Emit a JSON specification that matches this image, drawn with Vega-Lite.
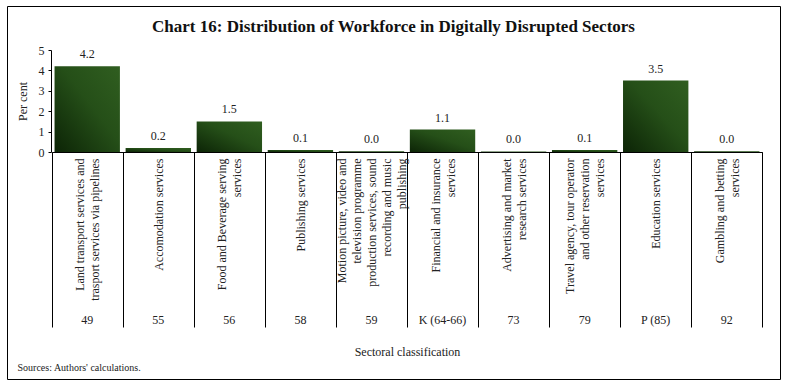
{
  "$schema": "https://vega.github.io/schema/vega-lite/v6.json",
  "width": 773,
  "height": 373,
  "autosize": {"type": "none"},
  "padding": {"left": 7, "top": 6, "right": 7, "bottom": 8},
  "background": "white",
  "title": {
    "text": "Chart 16: Distribution of Workforce in Digitally Disrupted Sectors",
    "font": "Liberation Serif",
    "fontSize": 17,
    "fontWeight": "bold",
    "color": "#111",
    "anchor": "middle",
    "frame": "group",
    "baseline": "alphabetic",
    "offset": -43
  },
  "config": {
    "view": {"stroke": "#000", "strokeWidth": 1},
    "font": "Liberation Serif",
    "text": {"font": "Liberation Serif"}
  },
  "data": {
    "values": [
      {"cat": "Land transport services and|trasport services via pipelines", "value": 4.2, "code": "49"},
      {"cat": "Accomodation services", "value": 0.2, "code": "55"},
      {"cat": "Food and Beverage serving|services", "value": 1.5, "code": "56"},
      {"cat": "Publishing services", "value": 0.1, "code": "58"},
      {"cat": "Motion picture, video and|television programme|production services, sound|recording and music|publishing", "value": 0.04, "code": "59"},
      {"cat": "Financial and insurance|services", "value": 1.1, "code": "K (64-66)"},
      {"cat": "Advertising and market|research services", "value": 0.03, "code": "73"},
      {"cat": "Travel agency, tour operator|and other reservation|services", "value": 0.1, "code": "79"},
      {"cat": "Education services", "value": 3.5, "code": "P (85)"},
      {"cat": "Gambling and betting|services", "value": 0.04, "code": "92"}
    ]
  },
  "resolve": {"axis": {"x": "independent"}},
  "layer": [
    {
      "mark": {
        "type": "bar",
        "width": {"band": 0.92},
        "color": {
          "gradient": "linear",
          "x1": 0, "y1": 1, "x2": 1, "y2": 0,
          "stops": [
            {"offset": 0, "color": "#0c2406"},
            {"offset": 0.55, "color": "#254f18"},
            {"offset": 1, "color": "#305e20"}
          ]
        }
      },
      "encoding": {
        "x": {
          "field": "cat",
          "type": "nominal",
          "sort": null,
          "scale": {"range": [44.7, 755.3], "paddingInner": 0, "paddingOuter": 0},
          "axis": {
            "orient": "bottom",
            "offset": -227,
            "tickBand": "extent",
            "tickSize": 175,
            "tickColor": "#000",
            "domainColor": "#000",
            "labelAngle": -90,
            "labelAlign": "right",
            "labelBaseline": "middle",
            "labelPadding": -169,
            "labelExpr": "split(datum.label, '|')",
            "labelOffset": {
              "condition": [
                {"test": "length(split(datum.value, '|')) == 2", "value": -7.5},
                {"test": "length(split(datum.value, '|')) == 3", "value": -15},
                {"test": "length(split(datum.value, '|')) == 5", "value": -30}
              ],
              "value": 0
            },
            "labelLineHeight": 15,
            "labelFontSize": 12,
            "labelColor": "#222",
            "labelLimit": 0,
            "labelOverlap": false,
            "labelBound": false,
            "labelFlush": false,
            "title": "Sectoral classification",
            "titleFontSize": 12,
            "titleFontWeight": "normal",
            "titleColor": "#222",
            "titlePadding": 19
          }
        },
        "y": {
          "field": "value",
          "type": "quantitative",
          "title": "Per cent",
          "scale": {"domain": [0, 5], "range": [146, 44], "nice": false, "zero": false},
          "axis": {
            "orient": "left",
            "offset": -44,
            "values": [0, 1, 2, 3, 4, 5],
            "format": "d",
            "tickSize": 3,
            "tickColor": "#000",
            "domainColor": "#000",
            "labelPadding": 4,
            "labelFontSize": 12,
            "labelColor": "#222",
            "grid": false,
            "titleFontSize": 12,
            "titleFontWeight": "normal",
            "titleColor": "#222",
            "titlePadding": 9
          }
        }
      }
    },
    {
      "mark": {"type": "text", "baseline": "alphabetic", "dy": -8, "fontSize": 12, "color": "#222"},
      "encoding": {
        "x": {"field": "cat", "type": "nominal", "sort": null, "axis": null},
        "y": {"field": "value", "type": "quantitative", "title": "Per cent"},
        "text": {"field": "value", "type": "quantitative", "format": ".1f"}
      }
    },
    {
      "mark": {"type": "text", "baseline": "middle", "fontSize": 12, "color": "#222"},
      "encoding": {
        "x": {
          "field": "cat",
          "type": "nominal",
          "sort": null,
          "axis": {
            "orient": "top",
            "labels": false,
            "ticks": false,
            "domain": false,
            "title": "Sources: Authors' calculations.",
            "titleX": 10,
            "titleY": 361,
            "titleAlign": "left",
            "titleAnchor": "start",
            "titleBaseline": "middle",
            "titleFontSize": 10,
            "titleFontWeight": "normal",
            "titleColor": "#222"
          }
        },
        "y": {"datum": -8.25, "type": "quantitative", "title": "Per cent"},
        "text": {"field": "code"}
      }
    }
  ]
}
